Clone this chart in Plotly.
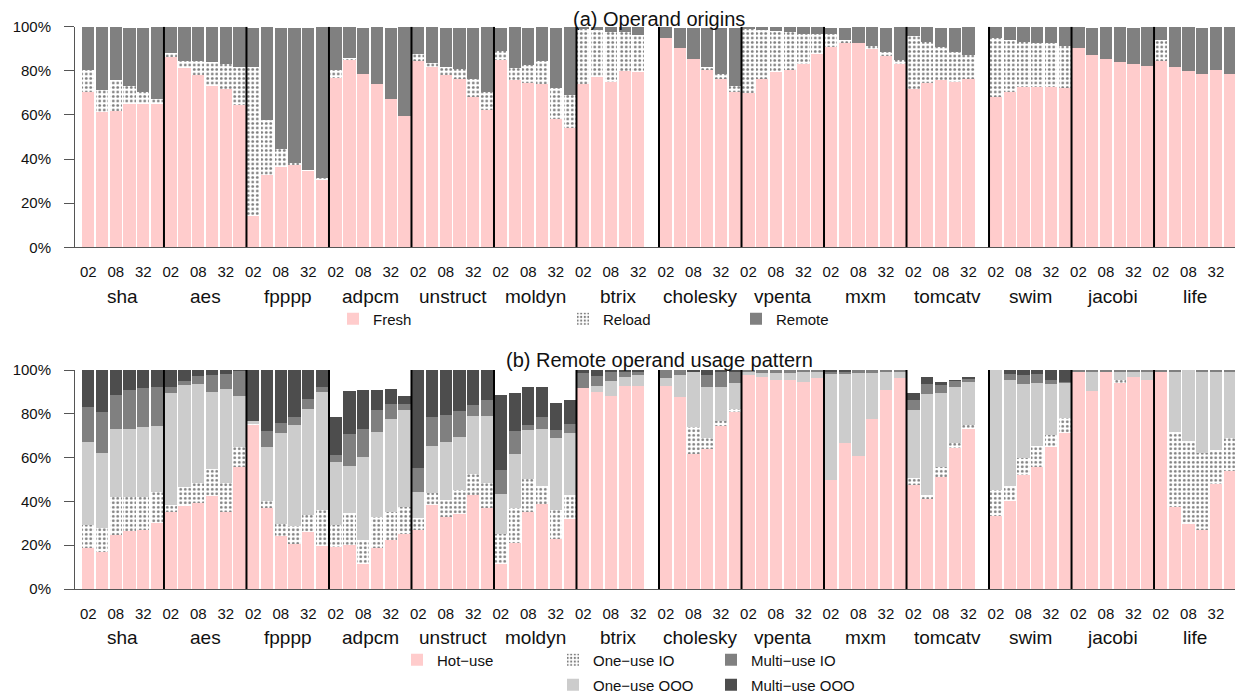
import plotly.graph_objects as go

# Reference canvas is 1243x696; the page body adds an 8px margin, so the figure
# itself is drawn 8px smaller and every reference pixel is shifted by OFF.
REF_W, REF_H = 1243, 696
OFF = 8
W, H = REF_W - OFF, REF_H - OFF

benchmarks = ["sha", "aes", "fpppp", "adpcm", "unstruct", "moldyn", "btrix",
              "cholesky", "vpenta", "mxm", "tomcatv", "swim", "jacobi", "life"]
configs = ["02", "04", "08", "16", "32", "64"]
shown_ticks = ["02", "08", "32"]
pct_ticks = [0, 20, 40, 60, 80, 100]

# ---------- (a) Operand origins (percent of operands) ----------
fresh = [
    [70.5, 61.5, 61.8, 64.8, 65.1, 65.1],
    [86.1, 81.1, 78.2, 73.3, 71.6, 64.4],
    [14.4, 32.9, 36.6, 37.5, 34.9, 30.8],
    [76.9, 85.2, 78.5, 74.0, 67.2, 59.5],
    [84.6, 81.9, 78.1, 76.1, 68.3, 62.2],
    [85.0, 76.0, 74.5, 74.2, 58.2, 54.1],
    [74.0, 77.2, 75.1, 80.1, 79.5],
    [94.9, 90.3, 85.3, 80.5, 76.4, 70.4],
    [69.9, 76.3, 79.6, 80.4, 83.2, 87.5],
    [90.8, 92.6, 92.6, 89.9, 86.9, 83.2],
    [71.9, 74.6, 75.8, 75.1, 76.3],
    [68.3, 70.5, 72.8, 72.8, 72.8, 72.4],
    [90.5, 87.2, 85.3, 84.0, 83.1, 82.2],
    [84.4, 81.7, 79.9, 78.5, 80.4, 78.5],
]
reload_ = [
    [9.9, 9.8, 14.0, 8.3, 5.3, 2.1],
    [2.0, 3.2, 6.1, 10.5, 11.5, 17.2],
    [67.2, 24.8, 7.8, 0.6, 0.2, 0.5],
    [3.5, 0.6, 0.0, 0.0, 0.0, 0.0],
    [3.0, 1.8, 3.8, 4.7, 8.0, 8.3],
    [4.0, 5.1, 8.0, 10.2, 13.9, 14.9],
    [25.0, 21.3, 22.4, 17.3, 16.9],
    [0.0, 0.0, 0.0, 1.2, 2.1, 2.7],
    [29.3, 22.2, 18.4, 17.0, 13.3, 9.3],
    [6.0, 1.4, 0.0, 1.5, 1.6, 1.7],
    [23.9, 18.5, 15.0, 13.3, 10.9],
    [26.4, 23.5, 20.3, 19.6, 19.6, 18.8],
    [0.0, 0.0, 0.0, 0.0, 0.0, 0.0],
    [9.6, 0.0, 0.0, 0.0, 0.0, 0.0],
]
remote = [
    [19.6, 28.7, 24.2, 26.3, 29.0, 32.8],
    [11.9, 15.7, 15.7, 16.2, 16.9, 18.4],
    [17.8, 42.3, 55.0, 61.3, 64.3, 68.7],
    [19.6, 14.2, 20.9, 26.0, 32.2, 40.5],
    [12.4, 16.3, 17.5, 18.6, 23.1, 29.5],
    [10.4, 18.9, 16.9, 15.6, 27.3, 31.0],
    [1.0, 1.5, 2.5, 2.6, 3.6],
    [5.1, 9.1, 14.1, 17.7, 20.9, 26.3],
    [0.8, 1.5, 2.0, 2.6, 3.5, 3.2],
    [2.6, 5.4, 7.4, 8.6, 10.9, 15.1],
    [4.2, 6.9, 8.6, 11.0, 12.8],
    [5.3, 6.0, 6.9, 7.6, 7.6, 8.8],
    [9.5, 12.2, 14.7, 16.0, 16.3, 17.8],
    [6.0, 18.3, 20.1, 20.9, 19.6, 21.5],
]

# ---------- (b) Remote operand usage pattern ----------
hot_use = [
    [18.9, 17.0, 24.7, 26.6, 26.9, 30.3],
    [35.3, 38.1, 39.4, 42.6, 35.3, 55.9],
    [74.9, 37.1, 24.4, 20.7, 26.2, 19.8],
    [19.3, 20.2, 11.6, 18.9, 22.2, 25.3],
    [26.9, 38.5, 32.9, 34.4, 42.9, 37.1],
    [11.6, 21.0, 35.2, 38.8, 22.8, 31.8],
    [91.8, 90.0, 88.1, 92.7, 92.7],
    [92.7, 87.8, 61.6, 63.9, 74.4, 80.8],
    [97.7, 96.8, 95.4, 95.4, 94.5, 96.3],
    [49.8, 66.7, 60.7, 77.6, 91.0, 96.3],
    [47.5, 41.1, 51.1, 64.5, 73.2],
    [33.3, 40.2, 52.1, 55.7, 64.8, 71.2],
    [99.5, 90.4, 99.5, 94.5, 96.8, 95.4],
    [99.5, 37.4, 29.7, 26.9, 47.9, 53.9],
]
one_use_io = [
    [10.2, 10.7, 17.5, 15.6, 15.3, 13.8],
    [3.2, 8.5, 9.2, 12.2, 13.3, 9.1],
    [0.3, 3.2, 5.4, 8.2, 7.7, 16.3],
    [9.9, 14.5, 10.8, 14.0, 13.1, 12.1],
    [5.4, 5.3, 7.7, 10.8, 9.6, 11.3],
    [13.5, 16.0, 15.0, 8.2, 13.3, 11.3],
    [0.0, 0.0, 0.0, 0.0, 0.0],
    [0.0, 0.0, 12.4, 5.0, 2.2, 1.4],
    [0.0, 0.0, 0.0, 0.0, 0.0, 0.0],
    [0.0, 0.0, 0.0, 0.0, 0.0, 0.0],
    [3.3, 1.8, 4.6, 2.0, 1.7],
    [11.9, 6.8, 7.7, 9.7, 5.4, 6.9],
    [0.0, 0.0, 0.0, 0.9, 0.0, 0.0],
    [0.0, 34.3, 37.9, 35.2, 15.6, 15.0],
]
one_use_ooo = [
    [38.0, 34.4, 30.9, 30.9, 31.6, 30.3],
    [51.0, 46.6, 45.2, 35.2, 42.7, 23.1],
    [1.5, 24.5, 41.4, 46.0, 48.3, 53.9],
    [28.8, 21.5, 37.9, 38.8, 42.3, 44.3],
    [12.0, 21.5, 26.5, 24.2, 26.5, 30.6],
    [18.3, 24.6, 22.4, 26.1, 32.8, 28.1],
    [0.0, 2.7, 6.9, 4.1, 5.0],
    [3.6, 9.9, 25.5, 23.3, 15.6, 11.9],
    [1.4, 1.8, 3.2, 3.2, 4.6, 2.8],
    [48.8, 31.9, 37.9, 21.0, 8.1, 2.8],
    [30.9, 46.1, 33.8, 25.7, 19.6],
    [54.9, 48.4, 33.8, 28.7, 23.4, 16.0],
    [0.0, 9.1, 0.0, 4.1, 2.7, 4.1],
    [0.0, 27.8, 32.4, 37.4, 36.0, 30.6],
]
multi_use_io = [
    [16.0, 18.7, 15.5, 17.8, 18.0, 17.8],
    [2.7, 1.8, 3.5, 7.7, 7.0, 11.6],
    [0.0, 7.3, 4.6, 3.6, 4.6, 2.2],
    [3.2, 14.6, 12.8, 10.0, 6.9, 2.8],
    [11.0, 13.2, 12.4, 11.9, 5.0, 7.3],
    [10.9, 10.5, 2.3, 5.4, 3.7, 4.1],
    [6.8, 4.6, 4.1, 2.7, 1.8],
    [3.7, 2.3, 0.0, 5.5, 6.9, 5.0],
    [0.9, 1.4, 1.4, 1.4, 0.9, 0.9],
    [0.9, 0.9, 1.4, 1.4, 0.9, 0.9],
    [4.6, 4.6, 4.1, 2.8, 1.8],
    [0.0, 2.8, 4.1, 4.1, 1.8, 0.4],
    [0.5, 0.5, 0.5, 0.5, 0.5, 0.5],
    [0.5, 0.5, 0.0, 0.5, 0.5, 0.5],
]
multi_use_ooo = [
    [16.9, 19.2, 11.4, 9.1, 8.2, 7.8],
    [7.8, 5.0, 2.7, 2.3, 1.7, 0.3],
    [23.3, 27.9, 24.2, 21.5, 13.2, 7.8],
    [17.3, 19.6, 17.8, 9.2, 6.8, 3.6],
    [44.7, 21.5, 20.5, 18.7, 16.0, 13.7],
    [34.3, 17.4, 17.3, 13.7, 12.3, 11.0],
    [1.4, 2.7, 0.9, 0.5, 0.5],
    [0.0, 0.0, 0.5, 2.3, 0.9, 0.9],
    [0.0, 0.0, 0.0, 0.0, 0.0, 0.0],
    [0.5, 0.5, 0.0, 0.0, 0.0, 0.0],
    [3.2, 3.2, 0.9, 0.4, 0.5],
    [0.0, 1.8, 2.3, 1.8, 4.6, 5.5],
    [0.0, 0.0, 0.0, 0.0, 0.0, 0.0],
    [0.0, 0.0, 0.0, 0.0, 0.0, 0.0],
]

# ---------- styling ----------
PINK = "#FFCCCC"
FONT = "Liberation Sans, Arial, Helvetica, sans-serif"
TXT = "#111111"
AXC = "#555555"
NSLOT = len(configs)
NG = len(benchmarks)


def py2paper(py):
    """reference pixel row -> paper fraction (margins t=b=0)"""
    return 1 - (py - OFF) / H


def flat(series):
    out = []
    for grp in series:
        out.extend(list(grp) + [None] * (NSLOT - len(grp)))
    return out


xpos = [g * NSLOT + j + 0.5 for g in range(NG) for j in range(NSLOT)]
dots = dict(shape=".", fgcolor="black", bgcolor="white", size=4.5, solidity=0.3)

fig = go.Figure()

panel_a = [
    ("Fresh", fresh, dict(color=PINK), "legend"),
    ("Reload", reload_, dict(color="white", pattern=dots), "legend2"),
    ("Remote", remote, dict(color="#808080"), "legend3"),
]
panel_b = [
    ("Hot\u2212use", hot_use, dict(color=PINK), "legend4"),
    ("One\u2212use IO", one_use_io, dict(color="white", pattern=dots), "legend5"),
    ("One\u2212use OOO", one_use_ooo, dict(color="#CCCCCC"), "legend6"),
    ("Multi\u2212use IO", multi_use_io, dict(color="#808080"), "legend7"),
    ("Multi\u2212use OOO", multi_use_ooo, dict(color="#4D4D4D"), "legend8"),
]

for name, data, mk, lg in panel_a:
    mk = dict(mk, line=dict(width=0))
    fig.add_trace(go.Bar(x=xpos, y=flat(data), name=name, marker=mk, width=0.89,
                         xaxis="x", yaxis="y", legend=lg, hoverinfo="skip",
                         showlegend=True))
for name, data, mk, lg in panel_b:
    mk = dict(mk, line=dict(width=0))
    fig.add_trace(go.Bar(x=xpos, y=flat(data), name=name, marker=mk, width=0.89,
                         xaxis="x2", yaxis="y2", legend=lg, hoverinfo="skip",
                         showlegend=True))

# group separators
for g in range(1, NG + 1):
    for xr, yr in (("x", "y"), ("x2", "y2")):
        fig.add_shape(type="line", xref=xr, yref=yr, x0=g * NSLOT, x1=g * NSLOT,
                      y0=0, y1=100, line=dict(color="black", width=2), layer="above")

tickvals = [g * NSLOT + configs.index(t) + 0.5 for g in range(NG) for t in shown_ticks]
ticktext = [t for g in range(NG) for t in shown_ticks]

xrange_ = [-0.47, NG * NSLOT + 0.47]
xcommon = dict(range=xrange_, tickmode="array", tickvals=tickvals, ticktext=ticktext,
               showgrid=False, zeroline=False, showline=True, linecolor=AXC, linewidth=1,
               ticks="", ticklabelstandoff=11, tickfont=dict(size=15, color=TXT),
               automargin=False, fixedrange=True)
ycommon = dict(range=[0, 100], tickmode="array", tickvals=pct_ticks,
               ticktext=[f"{v}%" for v in pct_ticks],
               showgrid=False, zeroline=False, showline=True, linecolor=AXC, linewidth=1,
               ticks="outside", ticklen=10, tickcolor=AXC, ticklabelstandoff=10,
               tickfont=dict(size=15, color=TXT), automargin=False, fixedrange=True)

ya_dom = [py2paper(247.3), py2paper(26.7)]
yb_dom = [py2paper(589.0), py2paper(370.0)]

fig.update_layout(
    width=W, height=H,
    margin=dict(l=75 - OFF, r=0, t=0, b=0, autoexpand=False),
    paper_bgcolor="white", plot_bgcolor="white",
    barmode="stack",
    showlegend=True,
    font=dict(family=FONT, size=15, color=TXT),
    xaxis=dict(xcommon, domain=[0, 1], anchor="y"),
    yaxis=dict(ycommon, domain=ya_dom, anchor="x"),
    xaxis2=dict(xcommon, domain=[0, 1], anchor="y2"),
    yaxis2=dict(ycommon, domain=yb_dom, anchor="x2"),
)

# group labels and titles
ann = []
for g, b in enumerate(benchmarks):
    for xr, py in (("x", 296.5), ("x2", 637.5)):
        ann.append(dict(x=g * NSLOT + NSLOT / 2, y=py2paper(py), xref=xr, yref="paper",
                        text=b, showarrow=False, font=dict(size=19, color=TXT),
                        xanchor="center", yanchor="middle"))
ann.append(dict(x=0.5, y=py2paper(18.7), xref="paper", yref="paper",
                text="(a) Operand origins", showarrow=False,
                font=dict(size=20, color=TXT), xanchor="center", yanchor="middle"))
ann.append(dict(x=0.5, y=py2paper(360.0), xref="paper", yref="paper",
                text="(b) Remote operand usage pattern", showarrow=False,
                font=dict(size=20, color=TXT), xanchor="center", yanchor="middle"))
fig.update_layout(annotations=ann)

# legends: reference pixel position of each legend symbol centre
legend_pos = {
    "legend": (353, 319), "legend2": (583, 319), "legend3": (756, 319),
    "legend4": (417, 660), "legend5": (573, 660), "legend7": (731, 660),
    "legend6": (573, 685), "legend8": (731, 685),
}
for key, (cx, cy) in legend_pos.items():
    fig.update_layout({key: dict(x=(cx - 20 - OFF) / W, y=1 - (cy - OFF) / H,
                                 xref="container", yref="container",
                                 xanchor="left", yanchor="middle",
                                 bgcolor="rgba(0,0,0,0)", borderwidth=0,
                                 font=dict(size=15, color=TXT))})

fig.write_html("out.html", config=dict(displayModeBar=False))
